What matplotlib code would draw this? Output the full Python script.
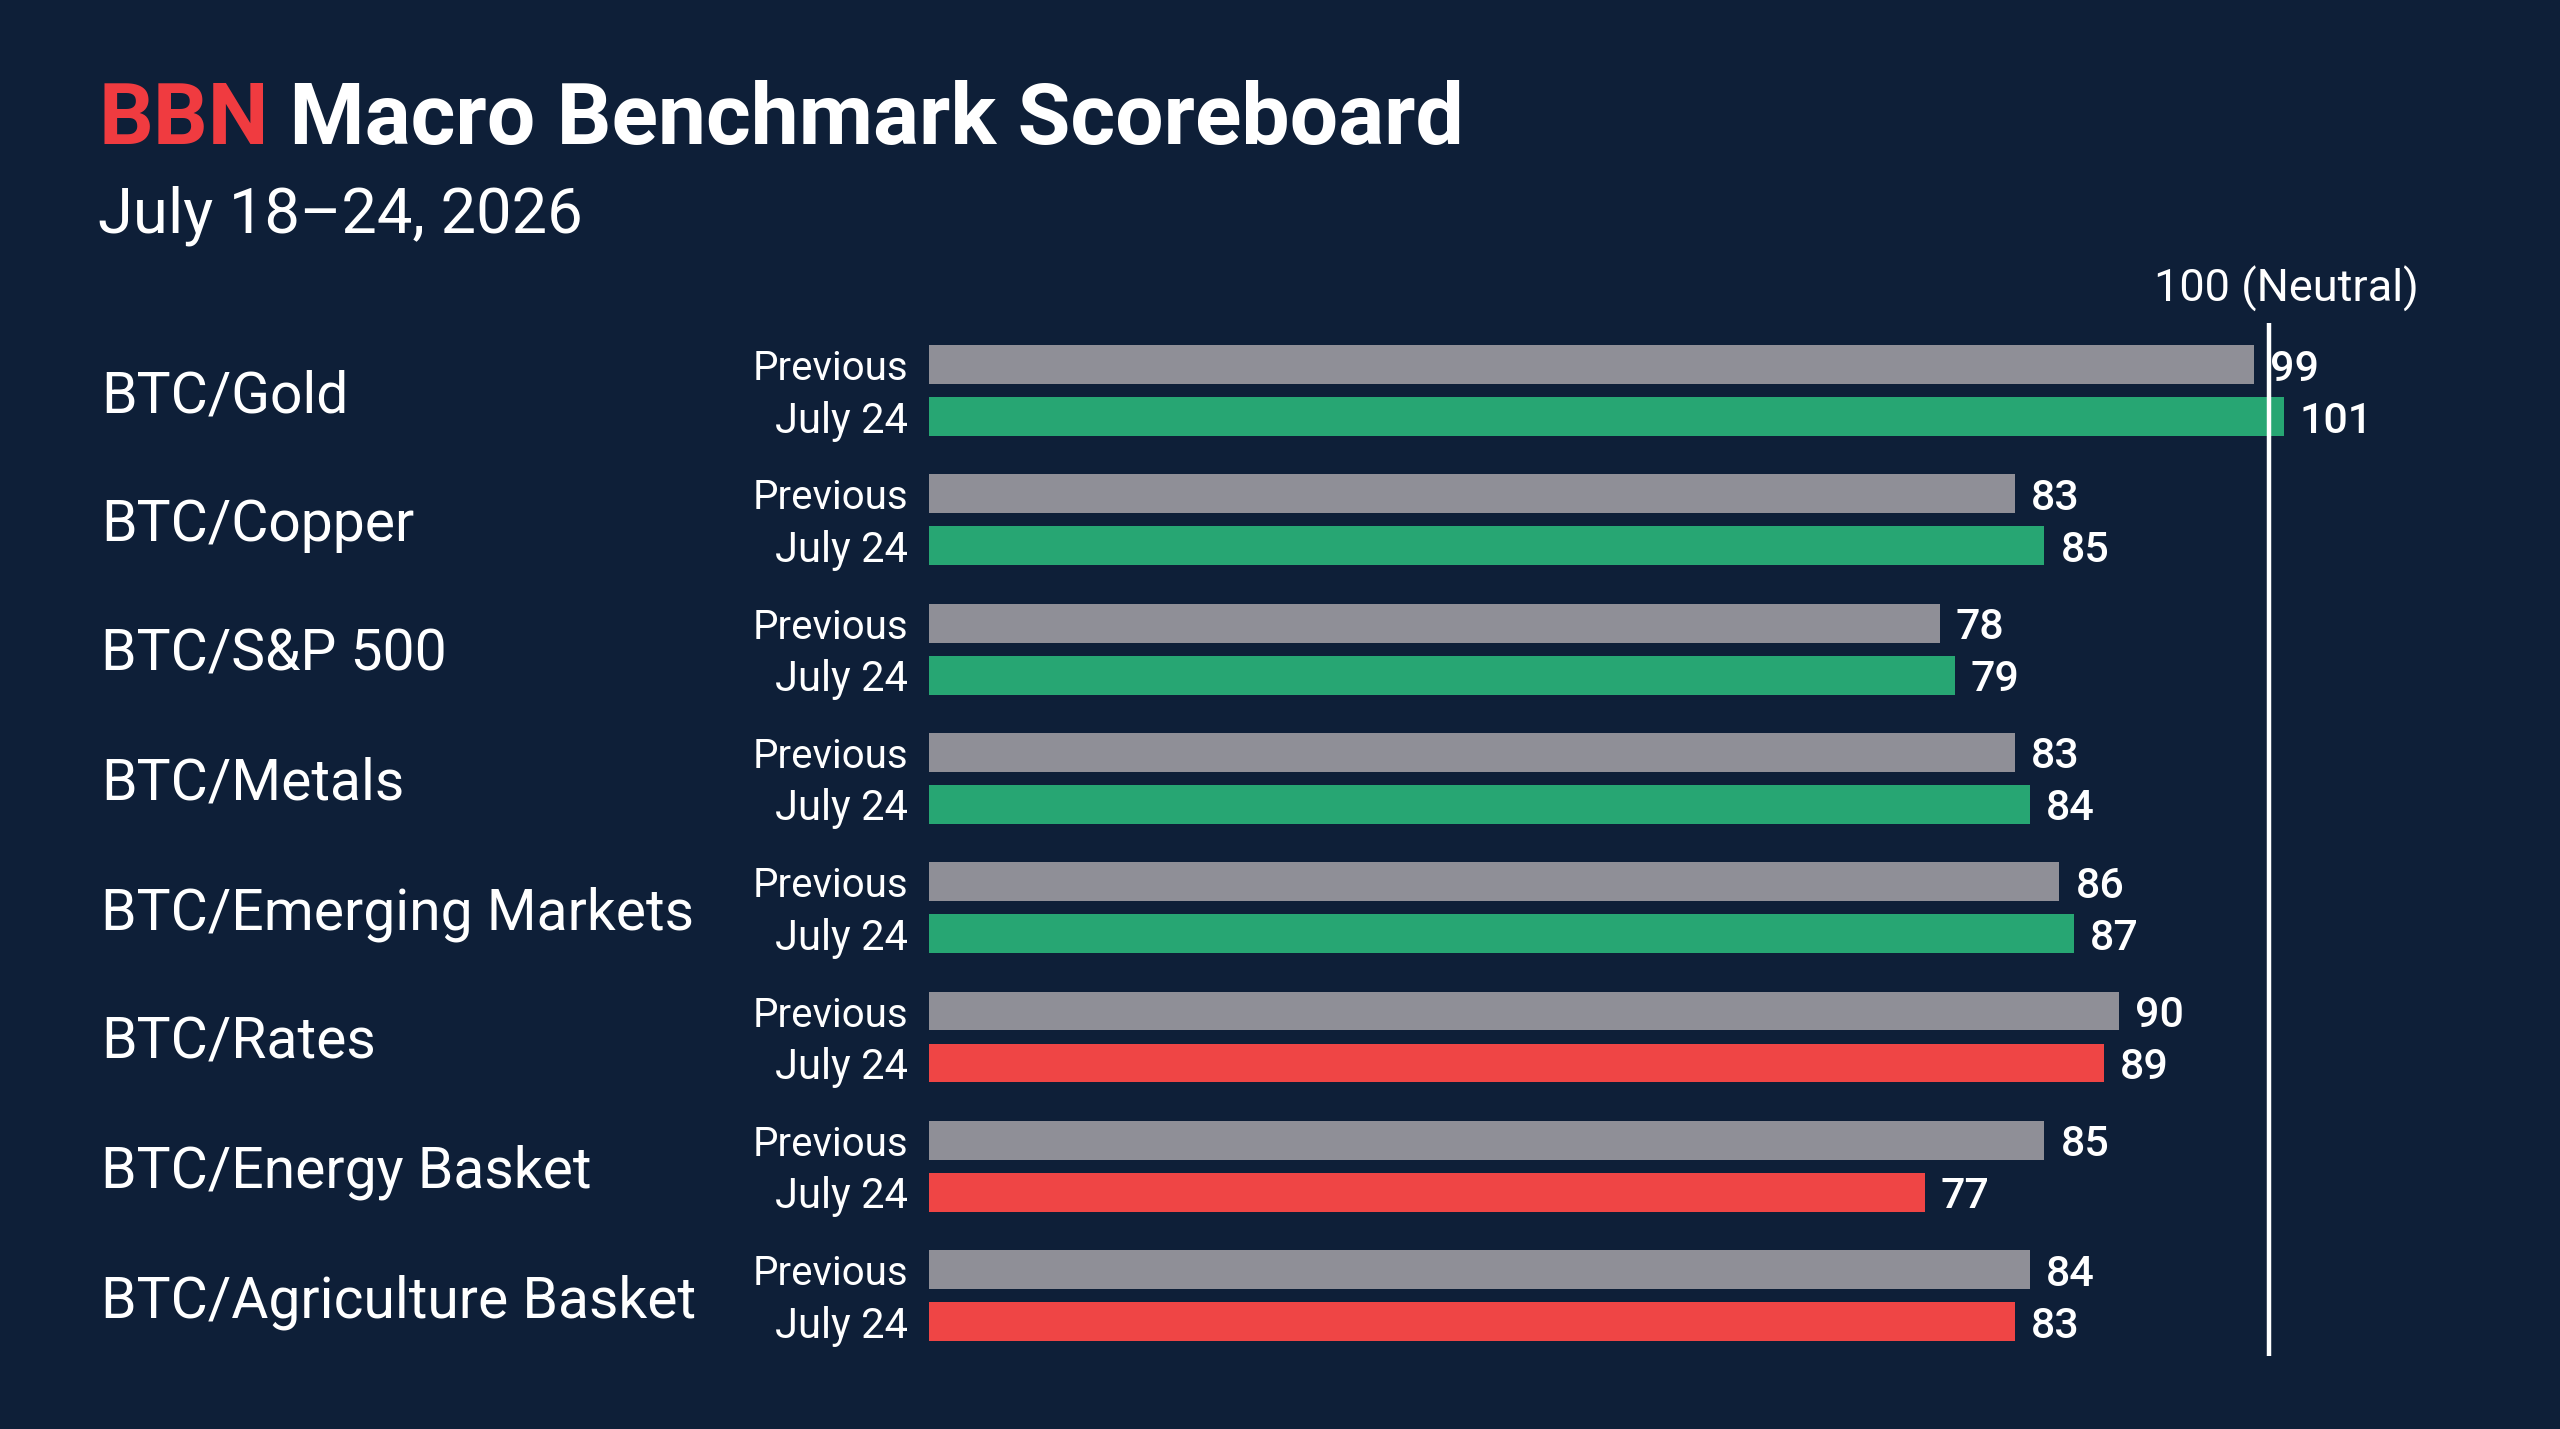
import matplotlib
matplotlib.use("Agg")
import matplotlib.pyplot as plt
import matplotlib.transforms as mtransforms

# ---- data ----
categories = ["BTC/Gold", "BTC/Copper", "BTC/S&P 500", "BTC/Metals",
              "BTC/Emerging Markets", "BTC/Rates", "BTC/Energy Basket",
              "BTC/Agriculture Basket"]
previous = [99, 83, 78, 83, 86, 90, 85, 84]
current = [101, 85, 79, 84, 87, 89, 77, 83]
row_labels = ["Previous", "July 24"]
neutral = 100
title_red = "BBN"
title_rest = " Macro Benchmark Scoreboard"
subtitle = "July 18\u201324, 2026"
neutral_label = "100 (Neutral)"

# ---- style ----
BG = "#0e1f38"
GRAY = "#8f8f97"
GREEN = "#27a673"
RED = "#ef4545"
TITLE_RED = "#f03b40"
WHITE = "#ffffff"
FONT = ["Roboto", "DejaVu Sans"]
plt.rcParams["font.family"] = FONT

W, H = 2560, 1429
fig = plt.figure(figsize=(W / 100, H / 100), dpi=100, facecolor=BG)

# axes placement in pixels
ax_left, ax_right = 929, 2502
ax_top, ax_bottom = 300, 1370
ax = fig.add_axes([ax_left / W, 1 - ax_bottom / H,
                   (ax_right - ax_left) / W, (ax_bottom - ax_top) / H])
ax.set_facecolor(BG)
ax.set_xlim(10.4, 115.6)
ax.set_ylim(7.575, -0.70)
ax.axis("off")

off = 0.201
bh = 0.30
n = len(categories)
ys = list(range(n))
prev_y = [y - off for y in ys]
cur_y = [y + off for y in ys]
cur_colors = [GREEN if c >= p else RED for c, p in zip(current, previous)]

ax.barh(prev_y, previous, height=bh, color=GRAY, zorder=2)
ax.barh(cur_y, current, height=bh, color=cur_colors, zorder=2)

# neutral line
ax.vlines(neutral, -0.522, 7.467, color=WHITE, lw=3.2, zorder=3)
ax.annotate(neutral_label, xy=(neutral, -0.522), xytext=(18, 34),
            textcoords="offset pixels", ha="center", va="center",
            color=WHITE, fontsize=32.5, annotation_clip=False)

# value labels
for y, v in zip(prev_y, previous):
    ax.annotate(str(v), xy=(v, y), xytext=(16, 0), textcoords="offset pixels",
                ha="left", va="center_baseline", color=WHITE, fontsize=31,
                fontweight="medium", annotation_clip=False)
for y, v in zip(cur_y, current):
    ax.annotate(str(v), xy=(v, y), xytext=(16, 0), textcoords="offset pixels",
                ha="left", va="center_baseline", color=WHITE, fontsize=31,
                fontweight="medium", annotation_clip=False)

# row labels & category labels
blend = mtransforms.blended_transform_factory(fig.transFigure, ax.transData)
for y, py, cy, cat in zip(ys, prev_y, cur_y, categories):
    ax.text(908 / W, py, row_labels[0], transform=blend, ha="right",
            va="center_baseline", color=WHITE, fontsize=29)
    ax.text(908 / W, cy, row_labels[1], transform=blend, ha="right",
            va="center_baseline", color=WHITE, fontsize=30)
    ax.text(101 / W, y, cat, transform=blend, ha="left",
            va="center_baseline", color=WHITE, fontsize=41)

# title
t1 = fig.text(98 / W, 1 - 144 / H, title_red, ha="left", va="baseline",
              color=TITLE_RED, fontsize=61.8, fontweight="bold")
ax.annotate(title_rest, xy=(1, 0), xycoords=t1, ha="left", va="bottom",
            color=WHITE, fontsize=61.8, fontweight="bold", annotation_clip=False)
fig.text(98 / W, 1 - 233 / H, subtitle, ha="left", va="baseline",
         color=WHITE, fontsize=45.5)

fig.savefig("out.png", dpi=100, facecolor=BG)
